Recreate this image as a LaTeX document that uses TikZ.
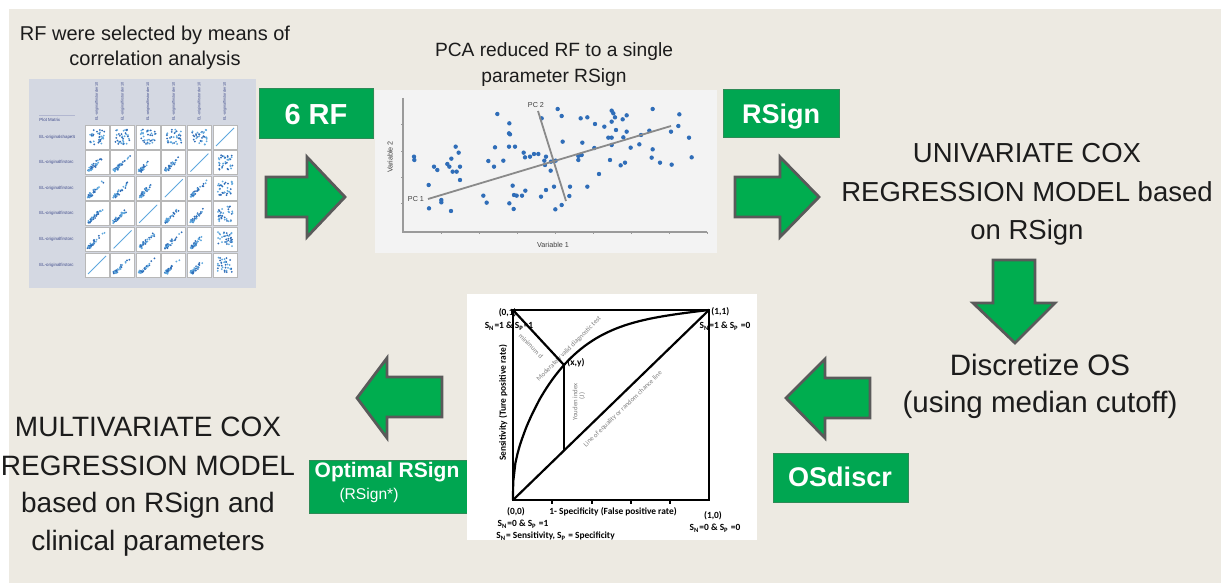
\documentclass[tikz,border=0pt]{standalone}
\usepackage{fontspec}
\setmainfont{Liberation Sans}
\newfontfamily\rocfont{Carlito}
\usetikzlibrary{calc}
\definecolor{beige}{HTML}{EDEAE2}
\definecolor{boxgreen}{HTML}{00A651}
\definecolor{boxedge}{HTML}{2E8B57}
\definecolor{arrowgreen}{HTML}{00AD4F}
\definecolor{arrowedge}{HTML}{5A5A5A}
\definecolor{pmback}{HTML}{D4D8E2}
\definecolor{pcaback}{HTML}{F3F3F3}
\definecolor{dotblue}{HTML}{2F6DB8}
\definecolor{lightdot}{HTML}{5FA8DE}
\definecolor{pmtext}{HTML}{3E4A8A}
\definecolor{cellframe}{HTML}{B8B8B8}
\definecolor{textdark}{HTML}{1C1C1C}
\definecolor{axisgrey}{HTML}{9A9A9A}
\definecolor{pcline}{HTML}{8A8A8A}
\definecolor{rocgrey}{HTML}{7F7F7F}
\begin{document}
\begin{tikzpicture}[x=0.5pt,y=-0.5pt,
  bigarrow/.style={fill=arrowgreen,draw=arrowedge,line width=1.4pt,line join=miter},
  greenbox/.style={fill=boxgreen,draw=boxedge,line width=0.4pt,inner sep=0pt},
  boxlabel/.style={text=white,inner sep=0pt,anchor=base,font=\bfseries\fontsize{13.5}{16}\selectfont},
  titletext/.style={text=textdark,inner sep=0pt,anchor=base,font=\fontsize{10}{12}\selectfont},
  bigtext/.style={text=textdark,inner sep=0pt,anchor=base,font=\fontsize{14}{17}\selectfont},
  pmlabel/.style={text=pmtext,inner sep=0pt,font=\fontsize{2.2}{2.5}\selectfont},
  pcalabel/.style={text=black!75,inner sep=0pt,font=\fontsize{3.6}{4}\selectfont},
  roclabel/.style={inner sep=0pt,font=\rocfont\bfseries\fontsize{4.7}{5.5}\selectfont},
  rocnote/.style={text=rocgrey,inner sep=0pt,font=\rocfont\fontsize{3.4}{4}\selectfont},
  rocline/.style={line width=1.1pt,black},
]
\useasboundingbox (0,0) rectangle (1223,583);
\fill[white] (0,0) rectangle (1223,583);
\fill[beige] (9,9) rectangle (1221,583);

% ---------------- plot matrix ----------------
\fill[pmback] (29,79) rectangle (256,288);
\draw[pmtext!40,line width=0.3pt] (39,115.5) -- (75,115.5);
\node[pmlabel,anchor=west] (pmtitle) at (39,119.5) {Plot Matrix};
\foreach \r/\lab in {1/EL-originalshapeS,2/EL-originalfirstorc,3/EL-originalfirstorc,4/EL-originalfirstorc,5/EL-originalfirstorc,6/EL-originalfirstorc}
  \node[pmlabel,anchor=west] (pmrow\r) at (39,{111.4+25.6*\r}) {\lab};
\foreach \c in {1,...,6}
  \node[pmlabel,rotate=90,anchor=west,font=\fontsize{1.9}{2}\selectfont] (pmcol\c) at ({71.4+25.6*\c},121) {EL-originalfirstorder 10};
\pgfmathsetseed{4242}
\foreach \r in {1,...,6}{
  \foreach \c in {1,...,6}{
    \pgfmathsetmacro\cx{85+25.6*(\c-1)}
    \pgfmathsetmacro\cy{125+25.6*(\r-1)}
    \fill[white,draw=cellframe,line width=0.4pt] (\cx,\cy) rectangle ++(24,24);
    \pgfmathtruncatemacro\kind{(\r+\c==7) ? 0 : ((\r==1 || \c==6) ? 1 : 2)}
    \ifcase\kind
      \draw[lightdot,line width=0.4pt] (\cx+3,\cy+21) -- (\cx+21,\cy+3);
    \or
      \foreach \k in {1,...,34}{
        \pgfmathsetmacro\px{\cx+12+7.5*rand}
        \pgfmathsetmacro\py{\cy+12+7.5*rand}
        \ifodd\k \def\dc{dotblue}\else\def\dc{lightdot}\fi
        \fill[\dc] (\px,\py) circle (0.5pt);
      }
    \or
      \foreach \k in {1,...,34}{
        \pgfmathsetmacro\t{rnd*rnd}
        \pgfmathsetmacro\px{\cx+4+16*\t+1.6*rand}
        \pgfmathsetmacro\py{\cy+20-16*\t+1.6*rand}
        \ifodd\k \def\dc{dotblue}\else\def\dc{lightdot}\fi
        \fill[\dc] (\px,\py) circle (0.5pt);
      }
    \fi
  }
}

% ---------------- PCA plot ----------------
\fill[pcaback] (375,90) rectangle (717,253);
\draw[axisgrey,line width=0.6pt] (403,98) -- (403,232) -- (707,232);
\foreach \tx in {441,479,517,555,593,631,669,707} \draw[axisgrey,line width=0.5pt] (\tx,232) -- (\tx,234.5);
\foreach \ty in {125,152,178,204} \draw[axisgrey,line width=0.5pt] (403,\ty) -- (400.5,\ty);
\foreach \a/\b in {162/380,163/390,222/410,232/420,262/402,268/410,274/386,287/350,296/368,278/425,290/425,300/410,300/450,206/465,207/535,244/510,244/517,273/543,412/252,448/280,447/310,450/313,447/350,465/350,405/352,385/393,402/410,430/392,491/368,495/382,510/380,522/372,535/372,558/380,553/392,573/395,555/405,572/422,587/392,593/237,605/258,545/265,608/335,458/467,462/495,470/497,486/497,496/482,448/520,461/537,370/497,380/518,543/500,558/480,582/470,630/470,628/498,605/525,586/538,682/470,662/265,682/262,705/282,733/290,755/242,760/250,765/262,755/275,788/268,800/256,768/300,800/305,790/322,745/323,755/323,755/345,703/354,667/338,655/378,660/375,665/375,655/390,717/432,750/390,782/406,795/398,812/353,838/343,843/315,868/302,878/237,958/253,955/288,933/305,987/323,995/382,878/358,875/383,900/398,935/404}
  \fill[dotblue] ({360+\a/3},{30+\b/3}) circle (1.1pt);
\node[pcalabel] (pc1) at (416,199) {PC 1};
\node[pcalabel] (pc2) at (536,105) {PC 2};
\coordinate (pc1end) at (671,126);
\coordinate (pc2end) at (566,201);
\draw[pcline,line width=0.9pt] (428,199) -- (pc1end);
\draw[pcline,line width=0.9pt] (538,111) -- (pc2end);
\node[pcalabel,rotate=90] (var2) at (390,157) {Variable 2};
\node[pcalabel] (var1) at (553,245) {Variable 1};

% ---------------- green boxes ----------------
\node[greenbox,minimum width=57pt,minimum height=25pt] (rf6box) at (316,113) {};
\node[greenbox,minimum width=58pt,minimum height=24pt] (rsignbox) at (781,113) {};
\node[greenbox,minimum width=67.5pt,minimum height=24.5pt] (osdbox) at (840.5,477.5) {};
\node[greenbox,minimum width=80.5pt,minimum height=26.5pt] (optbox) at (389.5,486.5) {};

% ---------------- ROC ----------------
\fill[white] (467,294) rectangle (757,540);
\node[roclabel,anchor=east] (r01) at (517,313) {(0,1)};
\node[roclabel] (r01s) at (509,326) {S\textsubscript{N}=1 \& S\textsubscript{P}=1};
\node[roclabel,anchor=west] (r11) at (711,312) {(1,1)};
\node[roclabel] (r11s) at (725,326) {S\textsubscript{N}=1 \& S\textsubscript{P} =0};
\node[rocnote,rotate=-46] (mind) at (531,346) {minimum d};
\node[rocnote,rotate=45] (modv) at (569,349) {Moderately valid diagnostic test};
\node[rocnote,rotate=44] (loe) at (623,409) {Line of equality or random chance line};
\node[rocnote,rotate=90] (youden) at (575,402) {Youden index};
\node[rocnote,rotate=90] (youdenj) at (582,396) {(J)};
\draw[rocline] (513,310) rectangle (709,500);
\draw[rocline] (513,500) -- (709,310);
\draw[rocline] (513,500) -- plot[domain=0.001:1,samples=90] ({513+196*\x},{500-190*(0.5*(1-(1-\x)*(1-\x)*(1-\x)*(1-\x))+0.5*pow(\x,0.244))});
\coordinate (xy) at (564,365);
\coordinate (xyfoot) at (564,450.6);
\draw[rocline] (513,310) -- (xy);
\draw[rocline] (xy) -- (xyfoot);
\foreach \tx in {552,592,631,670} \draw[black,line width=0.6pt] (\tx,500) -- (\tx,504);
\node[roclabel,anchor=west] (rxy) at (567,363) {(x,y)};
\node[roclabel,rotate=90] (sens) at (503,403) {Sensitivity (Ture positive rate)};
\node[roclabel] (r00) at (516,512) {(0,0)};
\node[roclabel] (r00s) at (523,524) {S\textsubscript{N}=0 \& S\textsubscript{P} =1};
\node[roclabel,anchor=west] (rdef) at (496,536) {S\textsubscript{N}= Sensitivity, S\textsubscript{P} = Specificity};
\node[roclabel] (spec) at (613,512) {1- Specificity (False positive rate)};
\node[roclabel] (r10) at (713,516) {(1,0)};
\node[roclabel] (r10s) at (715,528) {S\textsubscript{N}=0 \& S\textsubscript{P} =0};

% ---------------- block arrows ----------------
\draw[bigarrow] (266,177) -- (307,177) -- (307,157) -- (345,197) -- (307,237) -- (307,217) -- (266,217) -- cycle;
\draw[bigarrow] (735,177) -- (780,177) -- (780,157) -- (819,197) -- (780,237) -- (780,217) -- (735,217) -- cycle;
\draw[bigarrow] (993,260) -- (1035,260) -- (1035,303) -- (1055,303) -- (1015,343) -- (973,303) -- (993,303) -- cycle;
\draw[bigarrow] (870,378) -- (825,378) -- (825,359) -- (786,398) -- (825,438) -- (825,418) -- (870,418) -- cycle;
\draw[bigarrow] (442,377) -- (387,377) -- (387,358) -- (357,398) -- (387,438) -- (387,417) -- (442,417) -- cycle;

% ---------------- texts ----------------
\node[titletext] (t1a) at (155,41) {RF were selected by means of};
\node[titletext] (t1b) at (155,66) {correlation analysis};
\node[titletext,font=\fontsize{9.6}{11}\selectfont] (t2a) at (554,57) {PCA reduced RF to a single};
\node[titletext,font=\fontsize{9.6}{11}\selectfont] (t2b) at (554,83) {parameter RSign};

\node[bigtext,font=\fontsize{13.75}{16}\selectfont] (u1) at (1027,163) {UNIVARIATE COX};
\node[bigtext,font=\fontsize{13.75}{16}\selectfont] (u2) at (1027,202) {REGRESSION MODEL based};
\node[bigtext,font=\fontsize{13.75}{16}\selectfont] (u3) at (1027,240) {on RSign};

\node[bigtext,font=\fontsize{14.75}{17}\selectfont] (d1) at (1040,375) {Discretize OS};
\node[bigtext,font=\fontsize{14.75}{17}\selectfont] (d2) at (1040,413) {(using median cutoff)};

\node[bigtext] (m1) at (148,437) {MULTIVARIATE COX};
\node[bigtext] (m2) at (148,475) {REGRESSION MODEL};
\node[bigtext] (m3) at (148,512) {based on RSign and};
\node[bigtext] (m4) at (148,550) {clinical parameters};

\node[boxlabel,font=\bfseries\fontsize{14.5}{16}\selectfont] (rf6lab) at (316,125) {6 RF};
\node[boxlabel] (rsignlab) at (781,124) {RSign};
\node[boxlabel] (osdlab) at (840,487) {OSdiscr};
\node[boxlabel,font=\bfseries\fontsize{10.5}{12}\selectfont] (optlab) at (387,477) {Optimal RSign};
\node[boxlabel,font=\fontsize{7.8}{9}\selectfont] (optlab2) at (369,499) {(RSign*)};
\end{tikzpicture}
\end{document}
